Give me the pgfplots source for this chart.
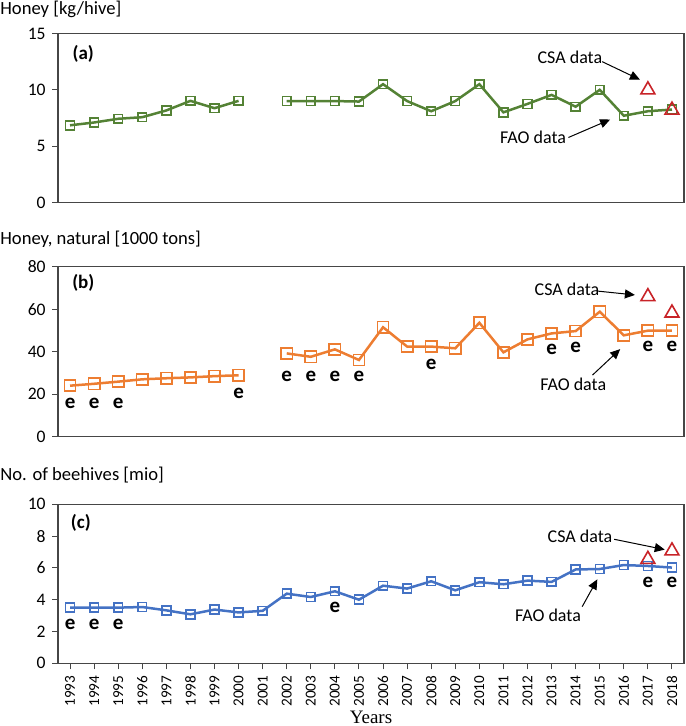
\documentclass[border=0pt]{standalone}
\usepackage{pgfplots}
\pgfplotsset{compat=1.18}
\usepackage{fontspec}
\setmainfont{Carlito}
\newfontfamily\timesfont{Liberation Serif}
\usetikzlibrary{arrows.meta}
\definecolor{cgreen}{RGB}{84,130,53}
\definecolor{corange}{RGB}{237,125,49}
\definecolor{cblue}{RGB}{68,114,196}
\definecolor{cred}{RGB}{200,35,40}
\definecolor{cframe}{RGB}{70,70,70}
\pgfplotsset{
  panel/.style={
    scale only axis, width=313pt,
    xmin=1992.5, xmax=2018.5,
    axis line style={cframe, line width=0.6pt},
    every tick/.style={cframe, line width=0.5pt},
    major tick length=3pt,
    tick align=outside,
    ytick pos=left, xtick pos=bottom,
    /pgf/number format/assume math mode=true,
    /pgf/number format/1000 sep={},
    yticklabel style={font=\fontsize{8.8}{10}\selectfont, inner sep=0pt},
    yticklabel shift=3pt,
    clip=false,
    unbounded coords=jump,
  },
  fao/.style={line width=1.25pt, mark=square, mark options={solid, line width=0.8pt}},
  csa/.style={only marks, mark=triangle, mark size=4pt, mark options={cred, line width=0.8pt}},
}
\tikzset{
  ann/.style={font=\fontsize{9}{11}\selectfont},
  arr/.style={-{Triangle[length=5pt,width=4.5pt]}, line width=0.5pt, black},
  elab/.style={font=\bfseries\fontsize{10.5}{12}\selectfont, inner sep=0pt},
  plab/.style={font=\bfseries\fontsize{9.5}{11}\selectfont, inner sep=0pt},
}
\begin{document}
\begin{tikzpicture}
\useasboundingbox (0,0) rectangle (342.5pt,363pt);
\node[anchor=base west, inner sep=0pt, font=\fontsize{9.3}{11}\selectfont] at (0pt,355.5pt) {Honey [kg/hive]};
\node[anchor=base west, inner sep=0pt, font=\fontsize{9.3}{11}\selectfont] at (0pt,240.5pt) {Honey, natural [1000 tons]};
\node[anchor=base west, inner sep=0pt, font=\fontsize{9.3}{11}\selectfont] at (0pt,122.7pt) {No. of beehives [mio]};
\node[anchor=base, inner sep=0pt, font=\timesfont\fontsize{9.5}{11}\selectfont] at (185.5pt,1.5pt) {Years};

% ---------------- (a)
\begin{axis}[panel, at={(29pt,261.75pt)}, anchor=south west, height=84.5pt,
  ymin=0, ymax=15, ytick={0,5,10,15}, xtick=\empty]
\addplot[fao, cgreen, mark size=2.2pt] coordinates {
(1993,6.85) (1994,7.1) (1995,7.43) (1996,7.57) (1997,8.17) (1998,9.02) (1999,8.37) (2000,9.02)
(2001,nan) (2002,9.0) (2003,9.0) (2004,9.0) (2005,8.96) (2006,10.5) (2007,9.0) (2008,8.1)
(2009,9.0) (2010,10.5) (2011,8.0) (2012,8.75) (2013,9.55) (2014,8.5) (2015,10.0) (2016,7.7)
(2017,8.1) (2018,8.25)};
\addplot[csa] coordinates {(2017,10.0) (2018,8.2)};
\node[plab] at (axis cs:1993.55,13.2) {(a)};
\node[ann] at (axis cs:2013.76,12.87) {CSA data};
\draw[arr] (axis cs:2015.1,12.5) -- (axis cs:2016.67,10.9);
\node[ann] at (axis cs:2012.23,5.77) {FAO data};
\draw[arr] (axis cs:2013.7,5.77) -- (axis cs:2015.43,7.36);
\end{axis}

% ---------------- (b)
\begin{axis}[panel, at={(29pt,144.65pt)}, anchor=south west, height=85pt,
  ymin=0, ymax=80, ytick={0,20,40,60,80}, xtick=\empty]
\addplot[fao, corange, mark size=2.8pt] coordinates {
(1993,24.0) (1994,24.9) (1995,25.9) (1996,27.0) (1997,27.5) (1998,27.9) (1999,28.5) (2000,28.9)
(2001,nan) (2002,39.2) (2003,37.6) (2004,41.1) (2005,36.1) (2006,51.5) (2007,42.4) (2008,42.4)
(2009,41.6) (2010,53.6) (2011,39.7) (2012,45.8) (2013,48.6) (2014,49.7) (2015,58.8) (2016,47.7)
(2017,49.9) (2018,49.9)};
\addplot[csa] coordinates {(2017,65.9) (2018,58.2)};
\node[plab] at (axis cs:1993.55,72.2) {(b)};
\node[elab] at (axis cs:1993,15.7) {e};
\node[elab] at (axis cs:1994,15.7) {e};
\node[elab] at (axis cs:1995,15.7) {e};
\node[elab] at (axis cs:2000,20.4) {e};
\node[elab] at (axis cs:2002,28.2) {e};
\node[elab] at (axis cs:2003,28.2) {e};
\node[elab] at (axis cs:2004,28.2) {e};
\node[elab] at (axis cs:2005,28.2) {e};
\node[elab] at (axis cs:2008,34.2) {e};
\node[elab] at (axis cs:2013,41.3) {e};
\node[elab] at (axis cs:2014,42.0) {e};
\node[elab] at (axis cs:2017,42.4) {e};
\node[elab] at (axis cs:2018,42.4) {e};
\node[ann] at (axis cs:2013.64,69.5) {CSA data};
\draw[arr] (axis cs:2014.93,68.5) -- (axis cs:2016.46,66.7);
\node[ann] at (axis cs:2013.9,24.8) {FAO data};
\draw[arr] (axis cs:2014.7,29.0) -- (axis cs:2015.85,41.2);
\end{axis}

% ---------------- (c)
\begin{axis}[panel, at={(29pt,31.35pt)}, anchor=south west, height=79.5pt,
  ymin=0, ymax=10, ytick={0,2,4,6,8,10},
  xtick={1993,...,2018},
  xticklabel style={rotate=90, anchor=east, inner sep=0pt, font=\fontsize{7.6}{8}\selectfont},
  xticklabel shift=3pt]
\addplot[fao, cblue, mark size=2.2pt] coordinates {
(1993,3.5) (1994,3.5) (1995,3.5) (1996,3.54) (1997,3.33) (1998,3.08) (1999,3.38) (2000,3.2)
(2001,3.3) (2002,4.38) (2003,4.17) (2004,4.53) (2005,4.0) (2006,4.88) (2007,4.7) (2008,5.16)
(2009,4.59) (2010,5.1) (2011,4.97) (2012,5.2) (2013,5.12) (2014,5.9) (2015,5.93) (2016,6.18)
(2017,6.12) (2018,6.02)};
\addplot[csa] coordinates {(2017,6.54) (2018,7.07)};
\node[plab] at (axis cs:1993.45,8.8) {(c)};
\node[elab] at (axis cs:1993,2.47) {e};
\node[elab] at (axis cs:1994,2.47) {e};
\node[elab] at (axis cs:1995,2.47) {e};
\node[elab] at (axis cs:2004,3.52) {e};
\node[elab] at (axis cs:2017,5.07) {e};
\node[elab] at (axis cs:2018,5.07) {e};
\node[ann] at (axis cs:2014.18,7.96) {CSA data};
\draw[arr] (axis cs:2015.6,7.8) -- (axis cs:2017.7,7.15);
\node[ann] at (axis cs:2012.85,3.04) {FAO data};
\draw[arr] (axis cs:2014.27,3.56) -- (axis cs:2014.9,5.28);
\end{axis}
\end{tikzpicture}
\end{document}
